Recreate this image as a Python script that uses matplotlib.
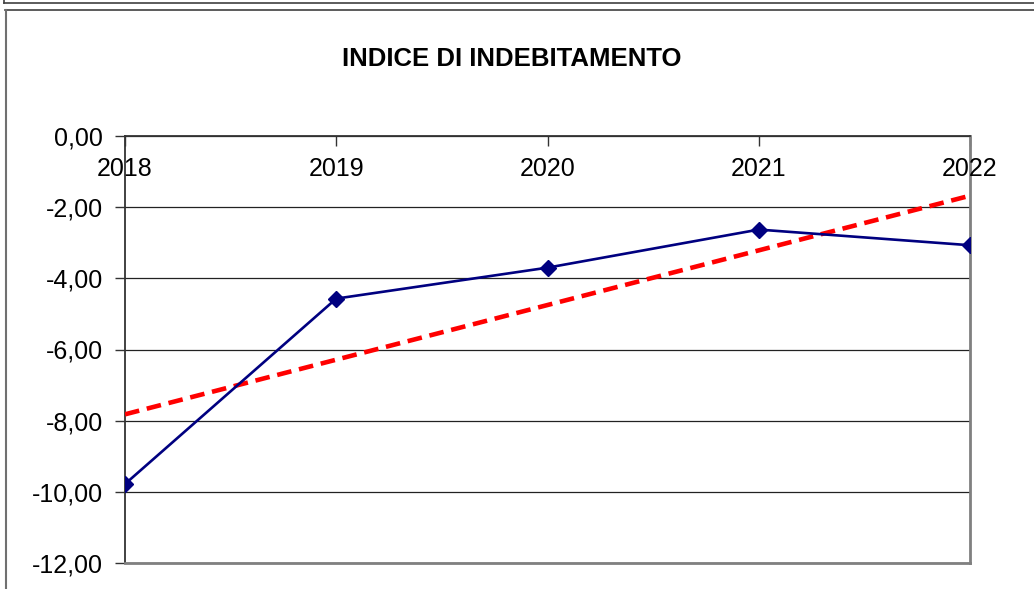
import numpy as np
import matplotlib
matplotlib.use('Agg')
import matplotlib.pyplot as plt
from matplotlib.lines import Line2D
from matplotlib.ticker import FixedLocator

# data
years = ['2018', '2019', '2020', '2021', '2022']
values = [-9.78, -4.57, -3.70, -2.63, -3.07]
yticks = [0, -2, -4, -6, -8, -10, -12]
ytick_labels = ['0,00', '-2,00', '-4,00', '-6,00', '-8,00', '-10,00', '-12,00']
title = 'INDICE DI INDEBITAMENTO'

plt.rcParams['font.family'] = ['Liberation Sans', 'DejaVu Sans']

fig = plt.figure(figsize=(10.34, 5.89), dpi=100)
W, H = 1034, 589

# outer frames (chart border + bottom of the box above)
def px_line(x0, y0, x1, y1, **kw):
    fig.add_artist(Line2D([x0 / W, x1 / W], [1 - y0 / H, 1 - y1 / H],
                          transform=fig.transFigure, **kw))

px_line(4, 2.5, W, 2.5, color='#404040', lw=1.2)
px_line(4, 0, 4, 2.5, color='#404040', lw=1.2)
px_line(5, 9.5, W, 9.5, color='#404040', lw=1.2)
px_line(5.5, 9.5, 5.5, H, color='#707070', lw=1.5)

ax = fig.add_axes([125 / W, 1 - 563 / H, (970 - 125) / W, (563 - 136) / H])

x = np.arange(len(years))
ax.plot(x, values, color='#000080', lw=1.9, marker='D', markersize=8, zorder=4)

# linear trend line
k, b = np.polyfit(x, values, 1)
trend = k * x + b
ax.plot(x, trend, color='#ff0000', lw=3.3, dashes=(3.2, 1.7), zorder=3)

ax.set_xlim(0, 4)
ax.set_ylim(-12, 0)
ax.yaxis.set_major_locator(FixedLocator(yticks))
ax.set_yticklabels(ytick_labels, fontsize=18)
ax.tick_params(axis='y', direction='out', length=7, width=1, color='#333333', pad=9)
ax.grid(axis='y', color='#222222', lw=0.9)

ax.xaxis.tick_top()
ax.set_xticks(x)
ax.set_xticklabels([])
ax.tick_params(axis='x', direction='in', length=7, width=1, color='#333333')
for xi, lab in zip(x, years):
    ax.text(xi, -0.92, lab, ha='center', va='center', fontsize=18, zorder=5)

for s in ['left', 'top']:
    ax.spines[s].set_color('#333333')
    ax.spines[s].set_linewidth(1.3)
for s in ['right', 'bottom']:
    ax.spines[s].set_color('#808080')
    ax.spines[s].set_linewidth(2)

fig.text(512 / W, 1 - 59 / H, title, ha='center', va='center',
         fontsize=18.5, fontweight='bold')

fig.savefig('out.png', dpi=100)
